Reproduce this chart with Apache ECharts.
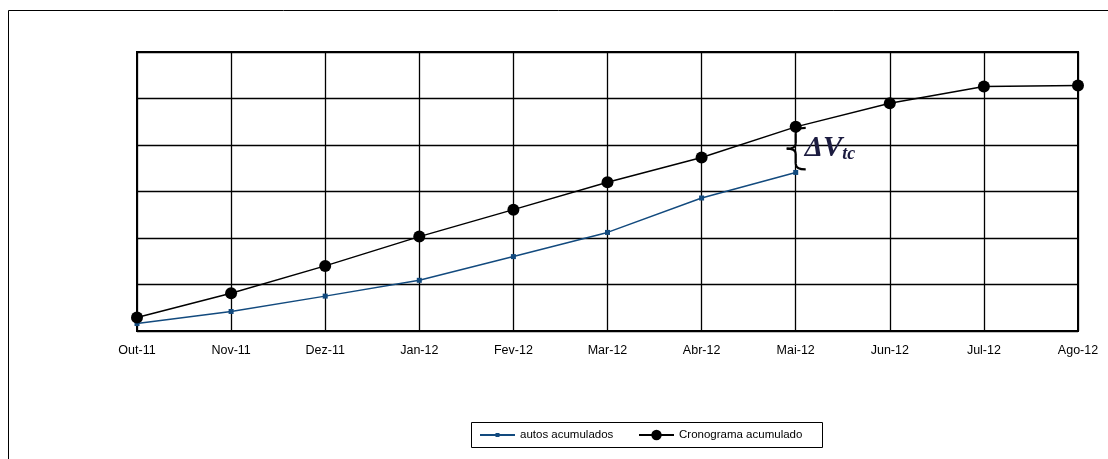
<!DOCTYPE html>
<html>
<head>
<meta charset="utf-8">
<script src="https://cdn.jsdelivr.net/npm/echarts@6/dist/echarts.min.js"></script>
<style>
    html, body { margin: 0; padding: 0; background: #fff; }
    #chart { width: 1108px; height: 459px; }
</style>
</head>
<body>
<div id="chart"></div>
<script>
const months = ["Out-11", "Nov-11", "Dez-11", "Jan-12", "Fev-12", "Mar-12",
    "Abr-12", "Mai-12", "Jun-12", "Jul-12", "Ago-12"];

const autosAcumulados = [0.16, 0.42, 0.75, 1.09, 1.60, 2.12, 2.86, 3.41];

const cronogramaAcumulado = [0.29, 0.81, 1.40, 2.03, 2.61, 3.20, 3.73, 4.39, 4.90, 5.26, 5.28];

const chart = echarts.init(document.getElementById("chart"));

chart.setOption({

    animation: false,

    textStyle: {
        fontFamily: "Liberation Sans, Arial, sans-serif"
    },

    grid: {
        left: 137,
        right: 30,
        top: 52,
        bottom: 128,
        show: true,
        borderColor: "#000",
        borderWidth: 2
    },

    legend: [
        {
            left: 479,
            top: 429,
            padding: 0,
            itemWidth: 35,
            itemHeight: 5,
            textStyle: { color: "#000", fontSize: 11.5 },
            data: ["autos acumulados"]
        },
        {
            left: 638,
            top: 429,
            padding: 0,
            itemWidth: 35,
            itemHeight: 13,
            textStyle: { color: "#000", fontSize: 11.5 },
            data: ["Cronograma acumulado"]
        }
    ],

    xAxis: {
        type: "category",
        boundaryGap: false,
        data: months,
        axisLine: { show: false },
        axisTick: { show: false },
        axisLabel: {
            color: "#000",
            fontSize: 12.5,
            margin: 13
        },
        splitLine: {
            show: true,
            lineStyle: { color: "#000", width: 1.3 }
        }
    },

    yAxis: {
        type: "value",
        min: 0,
        max: 6,
        interval: 1,
        axisLine: { show: false },
        axisTick: { show: false },
        axisLabel: { show: false },
        splitLine: {
            show: true,
            lineStyle: { color: "#000", width: 1.3 }
        }
    },

    series: [
        {
            name: "autos acumulados",
            type: "line",
            data: autosAcumulados,
            symbol: "rect",
            symbolSize: 5,
            itemStyle: { color: "#124A7E" },
            lineStyle: { color: "#124A7E", width: 1.5 },
            z: 3
        },
        {
            name: "Cronograma acumulado",
            type: "line",
            data: cronogramaAcumulado,
            symbol: "circle",
            symbolSize: 12,
            itemStyle: { color: "#000" },
            lineStyle: { color: "#000", width: 1.5 },
            z: 4
        }
    ]

});

/* ===========================
   Brace + ΔVtc between the two series at Mai-12
=========================== */

const topPt = chart.convertToPixel({ seriesIndex: 1 }, [7, cronogramaAcumulado[7]]);
const botPt = chart.convertToPixel({ seriesIndex: 0 }, [7, autosAcumulados[7]]);
const x0 = topPt[0];
const t = topPt[1] + 1;
const b = botPt[1] - 3;
const mid = (t + b) / 2;

const braceStyle = { stroke: "#000", fill: null, lineWidth: 2.2 };

function curve(x1, y1, cx, cy, x2, y2) {
    return {
        type: "bezierCurve",
        shape: { x1: x1, y1: y1, cpx1: cx, cpy1: cy, x2: x2, y2: y2 },
        style: braceStyle,
        z: 10
    };
}

function seg(x1, y1, x2, y2) {
    return {
        type: "line",
        shape: { x1: x1, y1: y1, x2: x2, y2: y2 },
        style: braceStyle,
        z: 10
    };
}

chart.setOption({
    graphic: [
        curve(x0 + 10, t, x0, t, x0, t + 6),
        seg(x0, t + 6, x0, mid - 5),
        curve(x0, mid - 5, x0, mid, x0 - 9, mid),
        curve(x0 - 9, mid, x0, mid, x0, mid + 5),
        seg(x0, mid + 5, x0, b - 6),
        curve(x0, b - 6, x0, b, x0 + 10, b),
        {
            type: "text",
            x: x0 + 9,
            y: mid - 16,
            style: {
                text: "{a|ΔV}{b|tc}",
                rich: {
                    a: {
                        fontSize: 29,
                        fontStyle: "italic",
                        fontWeight: "bold",
                        fontFamily: "Liberation Serif, serif",
                        fill: "#1c1c40"
                    },
                    b: {
                        fontSize: 18,
                        fontStyle: "italic",
                        fontWeight: "bold",
                        fontFamily: "Liberation Serif, serif",
                        fill: "#1c1c40",
                        padding: [13, 0, 0, 0]
                    }
                }
            },
            z: 10
        },
        {
            type: "rect",
            shape: { x: 471.5, y: 422.5, width: 351, height: 25 },
            style: { stroke: "#000", fill: null, lineWidth: 1 },
            silent: true
        },
        {
            type: "rect",
            shape: { x: 8.5, y: 10.5, width: 1200, height: 600 },
            style: { stroke: "#000", fill: null, lineWidth: 1 },
            silent: true
        }
    ]
});
</script>
</body>
</html>
